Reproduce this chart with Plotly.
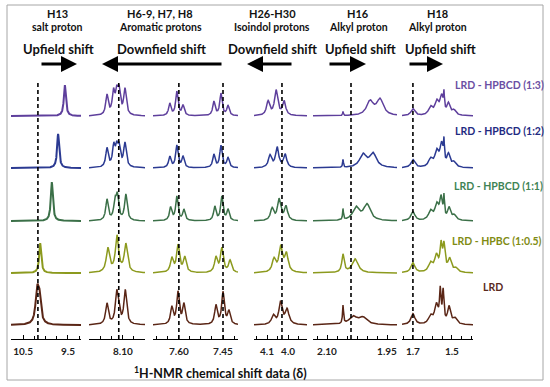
import numpy as np
import plotly.graph_objects as go

W, H = 550, 387

# ---------------- data ----------------
samples = ["LRD - HPBCD (1:3)", "LRD - HPBCD (1:2)", "LRD - HPBCD (1:1)",
           "LRD - HPBC (1:0.5)", "LRD"]
line_colors = ["#5e3f9c", "#2b3a92", "#3b7048", "#8c9a1e", "#5a2616"]
label_colors = ["#6b4fa3", "#1f2b82", "#3f8455", "#7f8c14", "#5a2a1e"]
offsets = [209, 157, 104, 52, 0]          # stack offsets (intensity units)

group_titles = ["H13", "H6-9, H7, H8", "H26-H30", "H16", "H18"]
group_subtitles = ["salt proton", "Aromatic protons", "Isoindol protons",
                   "Alkyl proton", "Alkyl proton"]
shift_labels = ["Upfield shift", "Downfield shift", "Downfield shift",
                "Upfield shift", "Upfield shift"]

panel_ranges = [[10.77, 9.21], [8.215, 8.025], [7.688, 7.399],
                [4.162, 3.910], [2.135, 1.925], [1.756, 1.392]]
tick_values = [[10.5, 9.5], [8.10], [7.60, 7.45], [4.1, 4.0], [2.10, 1.95], [1.7, 1.5]]
tick_labels = [["10.5", "9.5"], ["8.10"], ["7.60", "7.45"], ["4.1", "4.0"],
               ["2.10", "1.95"], ["1.7", "1.5"]]
minor_steps = [0.25, 0.0375, 0.0375, 0.05, 0.025, 0.05]
reference_shifts = [[10.17], [8.114], [7.60, 7.45], [4.029], [2.040], [1.700]]

# peak lists per panel: one list per sample, (shift ppm, intensity, half width ppm)
H13_peaks = [
    [(9.57, 31, 0.027)],
    [(9.72, 34, 0.027)],
    [(9.86, 39, 0.027)],
    [(10.12, 30, 0.027)],
    [(10.19, 30, 0.04), (10.14, 26, 0.04)],
]
aromatic_a_peaks = [
    [(8.154, 20, 0.005), (8.132, 22, 0.005), (8.121, 20, 0.005), (8.113, 22, 0.005), (8.093, 26, 0.0052)],
    [(8.154, 19, 0.005), (8.131, 20, 0.005), (8.121, 17, 0.005), (8.113, 18, 0.005), (8.093, 24, 0.0052)],
    [(8.154, 21, 0.005), (8.127, 17, 0.005), (8.119, 23, 0.005), (8.090, 26, 0.0052)],
    [(8.151, 24, 0.0065), (8.120, 36, 0.0065), (8.090, 28, 0.0065)],
    [(8.154, 21, 0.0055), (8.121, 31, 0.0055), (8.114, 10, 0.0045), (8.092, 34, 0.0055)],
]
aromatic_b_peaks = [
    [(7.631, 12, 0.0048), (7.607, 24, 0.0048), (7.586, 10, 0.0048), (7.481, 14, 0.0048), (7.457, 22, 0.0048), (7.433, 10, 0.0048)],
    [(7.631, 11, 0.0048), (7.607, 22, 0.0048), (7.586, 11, 0.0048), (7.481, 13, 0.0048), (7.457, 22, 0.0048), (7.433, 10, 0.0048)],
    [(7.628, 13, 0.0048), (7.607, 24, 0.0048), (7.583, 11, 0.0048), (7.478, 14, 0.0048), (7.454, 24, 0.0048), (7.433, 11, 0.0048)],
    [(7.624, 14, 0.0058), (7.603, 27, 0.0058), (7.580, 15, 0.0058), (7.474, 15, 0.0058), (7.454, 24, 0.0058), (7.426, 12, 0.0058)],
    [(7.624, 17, 0.0052), (7.603, 32, 0.0052), (7.583, 20, 0.0052), (7.474, 19, 0.0052), (7.450, 32, 0.0052), (7.430, 13, 0.0052)],
]
isoindol_peaks = [
    [(4.095, 14, 0.009), (4.057, 25, 0.009), (4.019, 14, 0.009)],
    [(4.086, 12, 0.009), (4.052, 20, 0.009), (4.014, 13, 0.009)],
    [(4.076, 12, 0.009), (4.043, 21, 0.009), (4.010, 14, 0.009)],
    [(4.067, 13, 0.01), (4.035, 25, 0.01), (4.008, 18, 0.01)],
    [(4.070, 9, 0.01), (4.036, 22, 0.009), (4.005, 15, 0.011)],
]
H16_peaks = [
    [(2.060, 4, 0.0012), (1.9925, 14, 0.01), (1.9675, 16, 0.01)],
    [(2.060, 8, 0.0012), (2.010, 13, 0.01), (1.985, 14, 0.01)],
    [(2.060, 11, 0.0013), (2.0275, 13, 0.01), (2.000, 16, 0.01)],
    [(2.060, 18, 0.0035), (2.030, 14, 0.009)],
    [(2.060, 18, 0.0015), (2.035, 8, 0.012), (2.010, 7, 0.012)],
]
H18_peaks = [
    [(1.700, 7, 0.012), (1.610, 8, 0.012), (1.578, 13, 0.012), (1.553, 18, 0.01), (1.541, 16, 0.0025), (1.518, 11, 0.009), (1.490, 5, 0.012)],
    [(1.700, 8, 0.012), (1.610, 8, 0.012), (1.578, 15, 0.012), (1.553, 22, 0.01), (1.541, 19, 0.0025), (1.518, 12, 0.009), (1.490, 5, 0.012)],
    [(1.700, 9, 0.012), (1.610, 9, 0.012), (1.578, 15, 0.012), (1.556, 21, 0.008), (1.541, 20, 0.003), (1.515, 12, 0.009), (1.488, 5, 0.012)],
    [(1.700, 10, 0.012), (1.610, 9, 0.012), (1.580, 16, 0.011), (1.556, 25, 0.0065), (1.541, 25, 0.0065), (1.512, 13, 0.01), (1.480, 4, 0.012)],
    [(1.700, 11, 0.012), (1.610, 8, 0.012), (1.580, 19, 0.011), (1.560, 31, 0.0045), (1.545, 31, 0.0045), (1.515, 17, 0.009), (1.485, 6, 0.012)],
]
panel_peaks = [H13_peaks, aromatic_a_peaks, aromatic_b_peaks, isoindol_peaks, H16_peaks, H18_peaks]

# ---------------- layout geometry (pixels) ----------------
panel_px = [(11, 81), (89, 145), (153, 238), (254, 307), (313, 397), (402, 473)]
baseline_px = 325        # pixel row of the lowest (LRD) baseline
axis_px = 339
group_centers = [57, 160, 272, 358, 437]
shift_centers = [59, 162, 273, 361, 441]
arrows = [(40, 77), (223, 102), (293, 247), (328, 366), (408, 443)]  # tail -> head
label_pos = [(453, 85), (453, 131), (452, 186), (450, 241), (481, 287)]


def spectrum(x, peaks):
    y = np.zeros_like(x)
    for c, h, w in peaks:
        y += h / (1.0 + ((x - c) / w) ** 2)
    return y


fig = go.Figure()
FONT = "Lato, Open Sans, sans-serif"

for p, peaks in enumerate(panel_peaks):
    ax = "x" if p == 0 else f"x{p+1}"
    x = np.linspace(panel_ranges[p][0], panel_ranges[p][1], 900)
    lw = 2.0 if p == 0 else 1.5
    for s in range(len(samples)):
        y = spectrum(x, peaks[s]) + offsets[s]
        fig.add_trace(go.Scatter(x=x, y=y, mode="lines", xaxis=ax, yaxis="y",
                                 line=dict(color=line_colors[s], width=lw),
                                 showlegend=False, hoverinfo="skip",
                                 name=samples[s]))
    key = "xaxis" if p == 0 else f"xaxis{p+1}"
    fig.layout[key] = dict(
        domain=[panel_px[p][0] / W, panel_px[p][1] / W],
        range=panel_ranges[p], anchor="free",
        position=(H - axis_px) / H,
        showline=True, linecolor="black", linewidth=1,
        showgrid=False, zeroline=False,
        tickvals=tick_values[p], ticktext=[f"<b>{t}</b>" for t in tick_labels[p]],
        ticks="inside", ticklen=4, tickcolor="black",
        minor=dict(dtick=minor_steps[p], tick0=tick_values[p][0], ticks="inside",
                   ticklen=3, tickcolor="black", showgrid=False),
        tickfont=dict(family=FONT, size=10, color="#222"),
        ticklabelstandoff=3,
    )
    for r in reference_shifts[p]:
        fig.add_shape(type="line", xref=ax, yref="y", x0=r, x1=r,
                      y0=baseline_px - axis_px, y1=baseline_px - 80,
                      line=dict(color="black", width=1.6, dash="4px,3px"))

fig.update_layout(
    yaxis=dict(domain=[0, 1], range=[-(H - baseline_px), baseline_px],
               visible=False, fixedrange=True),
)

ann = []
for g in range(5):
    ann.append(dict(x=group_centers[g] / W, y=1 - 13 / H, text=f"<b>{group_titles[g]}</b>",
                    font=dict(family=FONT, size=11, color="#111")))
    ann.append(dict(x=group_centers[g] / W, y=1 - 27 / H, text=f"<b>{group_subtitles[g]}</b>",
                    font=dict(family=FONT, size=10.5, color="#111")))
    ann.append(dict(x=shift_centers[g] / W, y=1 - 49 / H, text=f"<b>{shift_labels[g]}</b>",
                    font=dict(family=FONT, size=13, color="#111")))
for a in ann:
    a.update(xref="paper", yref="paper", showarrow=False, xanchor="center", yanchor="middle")

for tail, head in arrows:
    ann.append(dict(x=head / W, y=1 - 64 / H, xref="paper", yref="paper", text="",
                    showarrow=True, ax=tail - head, ay=0, axref="pixel", ayref="pixel",
                    arrowhead=2, arrowsize=1.0, arrowwidth=3.2, arrowcolor="black",
                    standoff=0, startstandoff=0))

for s in range(len(samples)):
    ann.append(dict(x=label_pos[s][0] / W, y=1 - label_pos[s][1] / H, xref="paper", yref="paper",
                    text=f"<b>{samples[s]}</b>", showarrow=False, xanchor="left", yanchor="middle",
                    font=dict(family=FONT, size=10.5, color=label_colors[s])))

ann.append(dict(x=220 / W, y=1 - 372 / H, xref="paper", yref="paper",
                text="<b><sup>1</sup>H-NMR chemical shift data (δ)</b>", showarrow=False,
                xanchor="center", yanchor="middle",
                font=dict(family=FONT, size=12.5, color="#111")))

fig.update_layout(
    annotations=ann,
    width=W, height=H, margin=dict(l=0, r=0, t=0, b=0),
    paper_bgcolor="white", plot_bgcolor="rgba(0,0,0,0)",
    showlegend=False,
)
fig.add_shape(type="rect", xref="paper", yref="paper",
              x0=7 / W, x1=543 / W, y0=1 - 380 / H, y1=1 - 5 / H,
              line=dict(color="#a6a6a6", width=1), fillcolor="rgba(0,0,0,0)")

fig.write_html("out.html", config={"displayModeBar": False, "staticPlot": True},
               post_script="document.body.style.margin='0px';document.body.style.overflow='hidden';")
